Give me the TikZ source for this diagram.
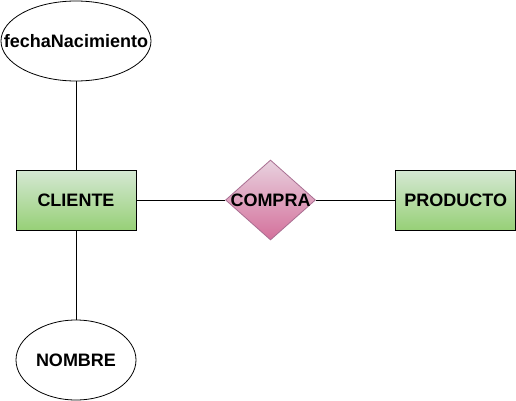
\documentclass[tikz,border=0pt]{standalone}
\usepackage{fontspec}
\setmainfont{Liberation Sans}
\usetikzlibrary{shapes.geometric}
\begin{document}
\begin{tikzpicture}[x=1pt,y=-1pt,
  every node/.style={font=\fontsize{18}{20}\selectfont\bfseries, text=black},
  entity/.style={draw=black, line width=0.9pt, minimum width=120pt, minimum height=60pt, inner sep=0pt,
    top color={rgb,255:red,213;green,232;blue,212}, bottom color={rgb,255:red,151;green,208;blue,119}},
  attr/.style={draw=black, ellipse, line width=0.8pt, fill=white, inner sep=0pt},
  rel/.style={draw={rgb,255:red,168;green,110;blue,145}, diamond, line width=0.8pt, inner sep=0pt,
    minimum width=90pt, minimum height=80pt,
    top color={rgb,255:red,232;green,210;blue,223}, bottom color={rgb,255:red,212;green,112;blue,155}},
  conn/.style={draw=black, line width=0.8pt}]
\useasboundingbox (0,0) rectangle (516,401);
\node[attr, minimum width=150pt, minimum height=80pt, label={center:fechaNacimiento}] (fecha) at (76,41) {};
\node[entity] (cliente) at (76,200) {CLIENTE};
\node[rel, label={center:COMPRA}] (compra) at (270.5,200) {};
\node[entity] (producto) at (455.7,200) {PRODUCTO};
\node[attr, minimum width=120pt, minimum height=80pt, label={center:NOMBRE}] (nombre) at (76,360) {};
\draw[conn] (fecha) -- (cliente);
\draw[conn] (cliente) -- (nombre);
\draw[conn] (cliente) -- (compra);
\draw[conn] (compra) -- (producto);
\end{tikzpicture}
\end{document}
